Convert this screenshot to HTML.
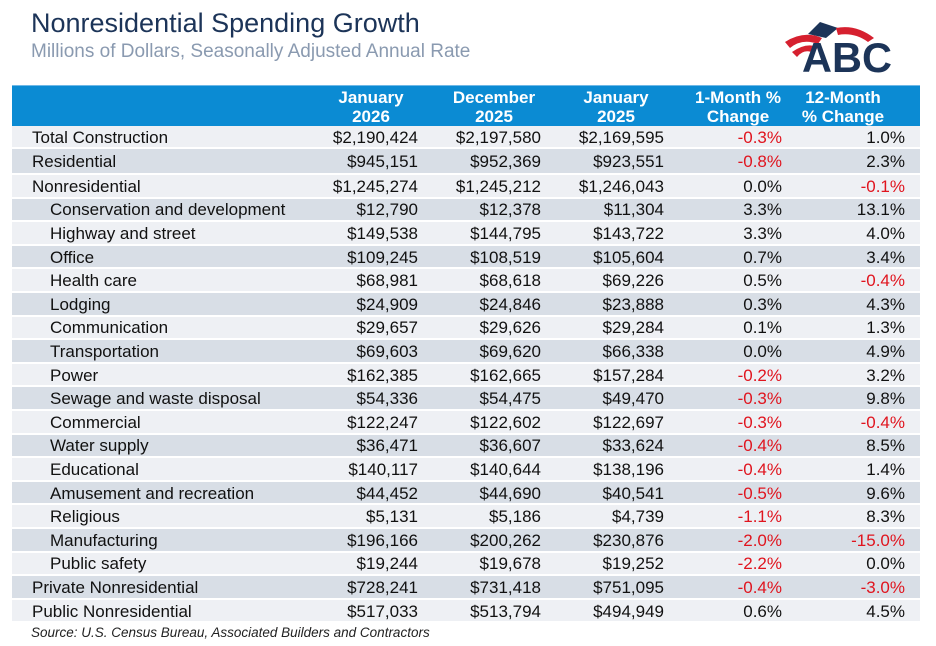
<!DOCTYPE html>
<html><head><meta charset="utf-8"><style>
body{margin:0;width:936px;height:646px;background:#fff;font-family:"Liberation Sans",Arial,sans-serif;position:relative;overflow:hidden}
.t{position:absolute;left:31px;top:8px;font-size:27px;color:#1c3458}
.s{position:absolute;left:31px;top:41px;font-size:19px;color:#8a9ab0}
.hdr{position:absolute;left:12px;top:85px;width:908px;height:41px;background:#0b8bd3;border-top:1px solid #6fb8e6}
.hdr div{position:absolute;top:2px;color:#fff;font-weight:bold;font-size:17px;line-height:19px;text-align:center;width:130px}
.row{position:absolute;left:12px;width:908px;font-size:17px;color:#111;border-bottom:2px solid #fff;box-sizing:border-box}
.row span{position:absolute;top:50%;transform:translateY(-45%);white-space:nowrap}
.l{background:#eef0f4}.d{background:#d8dee6}
.red{color:#e0141e}
.src{position:absolute;left:31px;top:625px;font-size:13.5px;font-style:italic;color:#222}
</style></head><body>
<div class="t">Nonresidential Spending Growth</div>
<div class="s">Millions of Dollars, Seasonally Adjusted Annual Rate</div>
<svg style="position:absolute;left:782px;top:16px" width="120" height="62" viewBox="0 0 120 62">
<path d="M26 18 L38 6 L56 12 L44 22Z" fill="#1c3458"/>
<path d="M3 26 Q22 14 40 22 L36 28 Q20 22 8 32Z" fill="#d6202f"/>
<path d="M10 36 Q24 26 36 31 L32 37 Q22 32 15 41Z" fill="#d6202f"/>
<path d="M54 12 Q74 8 92 22 L86 26 Q72 16 56 19Z" fill="#d6202f"/>
<text x="20" y="56" font-family="Liberation Sans,Arial,sans-serif" font-weight="bold" font-size="42" fill="#1c3458" textLength="90" lengthAdjust="spacingAndGlyphs">ABC</text>
</svg>
<div class="hdr">
<div style="left:294px">January<br>2026</div>
<div style="left:417px">December<br>2025</div>
<div style="left:539px">January<br>2025</div>
<div style="left:661px">1-Month %<br>Change</div>
<div style="left:766px">12-Month<br>% Change</div>
</div>
<div id="rows"></div>
<div class="src">Source: U.S. Census Bureau, Associated Builders and Contractors</div>
<script>
var d=[["Total Construction",0,"$2,190,424","$2,197,580","$2,169,595","-0.3%","1.0%"],
["Residential",0,"$945,151","$952,369","$923,551","-0.8%","2.3%"],
["Nonresidential",0,"$1,245,274","$1,245,212","$1,246,043","0.0%","-0.1%"],
["Conservation and development",1,"$12,790","$12,378","$11,304","3.3%","13.1%"],
["Highway and street",1,"$149,538","$144,795","$143,722","3.3%","4.0%"],
["Office",1,"$109,245","$108,519","$105,604","0.7%","3.4%"],
["Health care",1,"$68,981","$68,618","$69,226","0.5%","-0.4%"],
["Lodging",1,"$24,909","$24,846","$23,888","0.3%","4.3%"],
["Communication",1,"$29,657","$29,626","$29,284","0.1%","1.3%"],
["Transportation",1,"$69,603","$69,620","$66,338","0.0%","4.9%"],
["Power",1,"$162,385","$162,665","$157,284","-0.2%","3.2%"],
["Sewage and waste disposal",1,"$54,336","$54,475","$49,470","-0.3%","9.8%"],
["Commercial",1,"$122,247","$122,602","$122,697","-0.3%","-0.4%"],
["Water supply",1,"$36,471","$36,607","$33,624","-0.4%","8.5%"],
["Educational",1,"$140,117","$140,644","$138,196","-0.4%","1.4%"],
["Amusement and recreation",1,"$44,452","$44,690","$40,541","-0.5%","9.6%"],
["Religious",1,"$5,131","$5,186","$4,739","-1.1%","8.3%"],
["Manufacturing",1,"$196,166","$200,262","$230,876","-2.0%","-15.0%"],
["Public safety",1,"$19,244","$19,678","$19,252","-2.2%","0.0%"],
["Private Nonresidential",0,"$728,241","$731,418","$751,095","-0.4%","-3.0%"],
["Public Nonresidential",0,"$517,033","$513,794","$494,949","0.6%","4.5%"]];
var rights=[406,529,652,770,893],h="";
var tops=[126,149];for(var i=2;i<21;i++)tops.push(175+(i-2)*23.6);
for(var i=0;i<21;i++){var ht=(i<1?23:(i==1?26:23.6));
h+='<div class="row '+(i%2==0?'l':'d')+'" style="top:'+tops[i]+'px;height:'+ht+'px"><span style="left:'+(d[i][1]?38:20)+'px">'+d[i][0]+'</span>';
for(var j=0;j<5;j++){var v=d[i][j+2];h+='<span class="'+(j>=3&&v[0]=='-'?'red':'')+'" style="right:'+(908-rights[j])+'px">'+v+'</span>';}
h+='</div>';}
document.getElementById('rows').innerHTML=h;
</script>
</body></html>
